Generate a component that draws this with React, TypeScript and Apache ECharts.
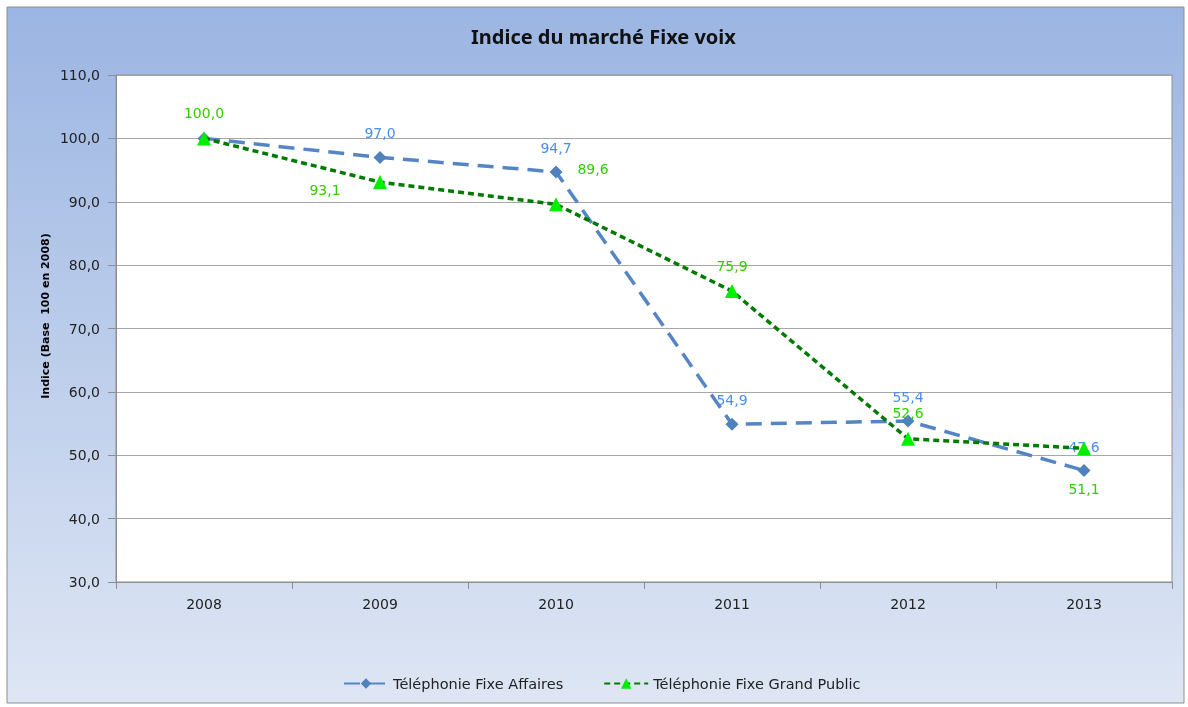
import React, { useEffect, useRef } from "react";
import * as echarts from "echarts";

const years = ["2008", "2009", "2010", "2011", "2012", "2013"];
const affaires = [100.0, 97.0, 94.7, 54.9, 55.4, 47.6];
const grandPublic = [100.0, 93.1, 89.6, 75.9, 52.6, 51.1];
// label offsets (relative to the point centre)
const affairesLabelOffsets: (number[] | null)[] = [null, [0, -24], [0, -24], [0, -24], [0, -24], [0, -23]];
const grandPublicLabelOffsets: number[][] = [[0, -25], [-55, 8], [37, -35], [0, -25], [0, -26], [0, 41]];

const fmt = (v: number) => v.toFixed(1).replace(".", ",");
const FONT = "DejaVu Sans";

export default function App() {
  const ref = useRef<HTMLDivElement>(null);
  useEffect(() => {
    document.body.style.margin = "0";
    const chart = echarts.init(ref.current!, null, { renderer: "svg" });
    const option: any = {
      animation: false,
      textStyle: { fontFamily: FONT },
      graphic: [
        {
          type: "rect",
          z: -100,
          silent: true,
          shape: { x: 7, y: 7, width: 1177, height: 696 },
          style: {
            fill: new echarts.graphic.LinearGradient(0, 0, 0, 1, [
              { offset: 0, color: "#9bb5e2" },
              { offset: 1, color: "#dee6f4" },
            ]),
            stroke: "#8e8e8e",
            lineWidth: 1,
          },
        },
        {
          type: "text",
          x: 45,
          y: 316,
          rotation: Math.PI / 2,
          style: {
            text: "Indice (Base  100 en 2008)",
            fontFamily: FONT,
            fontSize: 11,
            fontWeight: "bold",
            fill: "#000",
            align: "center",
            verticalAlign: "middle",
          },
        },
      ],
      title: {
        text: "Indice du marché Fixe voix",
        left: 466,
        top: 21,
        textStyle: { fontFamily: "Noto Sans", fontSize: 20, fontWeight: "bold", color: "#111" },
      },
      legend: {
        bottom: 11,
        left: 338,
        itemGap: 40,
        itemWidth: 44,
        itemHeight: 13,
        textStyle: { fontFamily: FONT, fontSize: 14.5, color: "#222" },
        data: ["Téléphonie Fixe Affaires", "Téléphonie Fixe Grand Public"],
      },
      grid: {
        left: 116,
        top: 75,
        right: 16,
        bottom: 125,
        show: true,
        backgroundColor: "#ffffff",
        borderColor: "#8e8e8e",
        borderWidth: 1,
      },
      xAxis: {
        type: "category",
        data: years,
        boundaryGap: true,
        axisLine: { lineStyle: { color: "#8e8e8e" } },
        axisTick: { show: true, length: 7, lineStyle: { color: "#8e8e8e" } },
        axisLabel: { fontFamily: FONT, fontSize: 14, color: "#222", margin: 15 },
      },
      yAxis: {
        type: "value",
        min: 30,
        max: 110,
        interval: 10,
        axisLine: { show: true, lineStyle: { color: "#8e8e8e" } },
        axisTick: { show: true, length: 8, lineStyle: { color: "#8e8e8e" } },
        axisLabel: { fontFamily: FONT, fontSize: 14, color: "#222", margin: 16, formatter: (v: number) => fmt(v) },
        splitLine: { lineStyle: { color: "#a6a6a6", width: 1 } },
      },
      series: [
        {
          name: "Téléphonie Fixe Affaires",
          type: "line",
          symbol: "diamond",
          symbolSize: 13,
          itemStyle: { color: "#4f81bd" },
          lineStyle: { color: "#5585c4", width: 3.5, type: [16, 9] },
          data: affaires.map((v, i) => ({
            value: v,
            label: affairesLabelOffsets[i]
              ? {
                  show: true,
                  position: "inside",
                  offset: affairesLabelOffsets[i],
                  formatter: () => fmt(v),
                  color: "#4a8ee8",
                  fontSize: 14,
                  fontFamily: FONT,
                }
              : { show: false },
          })),
          z: 2,
        },
        {
          name: "Téléphonie Fixe Grand Public",
          type: "line",
          symbol: "triangle",
          symbolSize: 14,
          itemStyle: { color: "#00ee00" },
          lineStyle: { color: "#007a00", width: 3.5, type: [6, 4] },
          data: grandPublic.map((v, i) => ({
            value: v,
            label: {
              show: true,
              position: "inside",
              offset: grandPublicLabelOffsets[i],
              formatter: () => fmt(v),
              color: "#33cc00",
              fontSize: 14,
              fontFamily: FONT,
            },
          })),
          z: 3,
        },
      ],
    };
    chart.setOption(option);
    return () => chart.dispose();
  }, []);
  return (
    <div
      ref={ref}
      style={{ position: "fixed", left: 0, top: 0, width: 1188, height: 707 }}
    />
  );
}
